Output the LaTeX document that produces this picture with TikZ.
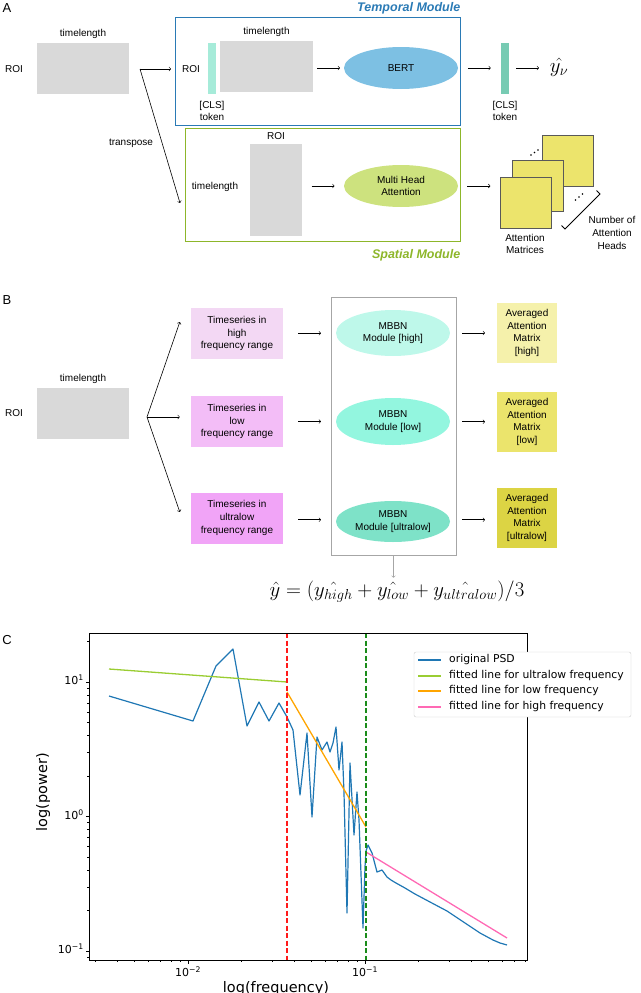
\documentclass[tikz,border=0pt]{standalone}
\usepackage{amsmath}
\usepackage[no-math]{fontspec}
\setmainfont{Liberation Sans}
\newfontfamily\plotfont{DejaVu Sans}
\usetikzlibrary{arrows,shapes.geometric,positioning,calc}

\definecolor{roigrey}{HTML}{D9D9D9}
\definecolor{tempblue}{HTML}{2A7AB5}
\definecolor{spgreen}{HTML}{8DB62A}
\definecolor{clsin}{HTML}{A6EBD9}
\definecolor{clsout}{HTML}{77CBB3}
\definecolor{bertfill}{HTML}{7DC0E3}
\definecolor{mhafill}{HTML}{CDE27E}
\definecolor{attyel}{HTML}{ECE46C}
\definecolor{tshigh}{HTML}{F3D8F4}
\definecolor{tslow}{HTML}{F3BDF7}
\definecolor{tsultra}{HTML}{F1A4F7}
\definecolor{mbhigh}{HTML}{BEF8EA}
\definecolor{mblow}{HTML}{93F6DF}
\definecolor{mbultra}{HTML}{7EE2C8}
\definecolor{avhigh}{HTML}{F5F1AB}
\definecolor{avlow}{HTML}{EBE46C}
\definecolor{avultra}{HTML}{DCD444}
\definecolor{psdblue}{HTML}{1F77B4}
\definecolor{fitultra}{HTML}{9ACD32}
\definecolor{fitlow}{HTML}{FFA500}
\definecolor{fithigh}{HTML}{FF69B4}
\definecolor{cutred}{HTML}{FF1A1A}
\definecolor{cutgreen}{HTML}{1A8C1A}

\begin{document}
\begin{tikzpicture}[
    x=1pt, y=-1pt,
    >=to,
    font=\fontsize{10}{12.8}\selectfont,
    roi/.style={rectangle, fill=roigrey, inner sep=0pt},
    tok/.style={rectangle, inner sep=0pt, minimum width=8pt, minimum height=51pt},
    modl/.style={ellipse, inner sep=0pt, minimum width=114pt, align=center},
    tsbl/.style={rectangle, inner sep=0pt, minimum width=92pt, minimum height=51pt, align=center},
    avbl/.style={rectangle, inner sep=0pt, minimum width=60pt, minimum height=60pt, align=center},
    attm/.style={rectangle, draw=black!65, line width=0.9pt, fill=attyel,
                 minimum size=51pt, inner sep=0pt},
    arr/.style={->, line width=0.6pt},
    lbl/.style={align=center, inner sep=1pt},
    ttl/.style={font=\fontsize{12.5}{15}\selectfont\bfseries\itshape, inner sep=0pt},
    pnl/.style={font=\fontsize{13}{15}\selectfont},
    tlbl/.style={font=\plotfont\fontsize{11}{13}\selectfont, inner sep=1pt},
    axlbl/.style={font=\plotfont\fontsize{14.5}{17}\selectfont},
    tick/.style={line width=0.6pt},
    cutline/.style={line width=1.4pt, dash pattern=on 5pt off 2.5pt},
  ]
  \useasboundingbox (0,0) rectangle (640,993);

  %% ===== A: Temporal / Spatial module =====
  \node[pnl] (labA) at (7,8) {A};

  \node[roi, minimum width=92pt, minimum height=51pt] (inA) at (83,68.5) {};
  \node[above=1pt of inA] (inAtl) {timelength};
  \node (inAroi) at (14,69) {ROI};
  \coordinate (splitA) at (140,69);

  %% Temporal Module
  \node[draw=tempblue, line width=0.9pt, minimum width=284.5pt, minimum height=108pt]
    (tempbox) at (317.75,71) {};
  \node[ttl, text=tempblue, anchor=base east] (tempttl)
    at ([yshift=5.5pt]tempbox.north east) {Temporal Module};

  \node (tmproi) at (191,69) {ROI};
  \node[tok, fill=clsin] (clsA) at (212,68.5) {};
  \node[lbl] (clsAlbl) at (212,111) {[CLS]\\token};
  \node[roi, minimum width=93pt, minimum height=51pt] (tmpA) at (266.5,66.5) {};
  \node[above=1pt of tmpA] (tmpAtl) {timelength};
  \node[modl, fill=bertfill, minimum height=42pt] (bert) at (401,68) {BERT};
  \node[tok, fill=clsout] (clsB) at (504.5,68.5) {};
  \node[lbl] (clsBlbl) at (505,111) {[CLS]\\token};
  \node[font=\fontsize{21}{24}\selectfont] (yhatA) at (559,67) {$\hat{y_\nu}$};

  \draw[arr] (splitA) -- ($(splitA -| tempbox.west)+(-4,0)$);
  \draw[arr] ($(tmpA.east |- bert.west)!.5!(bert.west)$) ++(-11.5,0) -- ++(23,0);
  \draw[arr] ($(bert.east)!.5!(clsB.west |- bert.east)$) ++(-11.5,0) -- ++(23,0);
  \draw[arr] ($(clsB.east |- bert.east)!.5!(yhatA.west |- bert.east)$) ++(-11.5,0) -- ++(23,0);

  %% Spatial Module
  \node[draw=spgreen, line width=0.9pt, minimum width=275pt, minimum height=113pt]
    (spbox) at (322.5,184.5) {};
  \node[ttl, text=spgreen, anchor=base east] (spttl)
    at ([yshift=-17.5pt]spbox.south east) {Spatial Module};
  \node[roi, minimum width=52pt, minimum height=92pt] (spA) at (276,190) {};
  \node[above=1pt of spA] (spAroi) {ROI};
  \node (spAtl) at (215,187) {timelength};
  \node[modl, fill=mhafill, minimum height=42pt] (mha) at (401,186) {Multi Head\\Attention};

  \node[attm] (attback)  at (567.5,160.5) {};
  \node[attm] (attmid)   at (537.5,185.5) {};
  \node[attm] (attfront) at (525.5,202.5) {};
  \foreach \p in {(531,155),(534.5,152.5),(538,150),(575.5,200),(579,197),(582.5,194)}
    \fill \p circle (0.9);
  \draw[line width=0.8pt] (561.5,225.5) -- (565,229) -- (600,194) -- (596.5,190.5);
  \node[lbl] (attlbl) at (525,244) {Attention\\Matrices};
  \node[lbl] (headlbl) at (612,233) {Number of\\Attention\\Heads};

  \draw[arr] ($(spA.east |- mha.west)!.5!(mha.west)$) ++(-11.5,0) -- ++(23,0);
  \draw[arr] ($(mha.east)!.5!(attfront.west |- mha.east)$) ++(-11.5,0) -- ++(23,0);

  %% transpose
  \coordinate (trEnd) at (180,203);
  \draw[arr] (splitA) -- (trEnd);
  \node (trlbl) at (131,143) {transpose};

  %% ===== B: frequency bands =====
  \node[pnl] (labB) at (7,300) {B};

  \node[roi, minimum width=92pt, minimum height=51pt] (inB) at (83,413.5) {};
  \node[above=1pt of inB] (inBtl) {timelength};
  \node (inBroi) at (14,413) {ROI};
  \coordinate (splitB) at (147,417);

  \node[tsbl, fill=tshigh]  (tshi) at (237,333.5) {Timeseries in\\high\\frequency range};
  \node[tsbl, fill=tslow]   (tslo) at (237,421.5) {Timeseries in\\low\\frequency range};
  \node[tsbl, fill=tsultra] (tsul) at (237,518)   {Timeseries in\\ultralow\\frequency range};

  \draw[arr] (splitB) -- ($(tshi.west)+(-11,-11.5)$);
  \draw[arr] (splitB) -- ($(splitB -| tslo.west)+(-11,0)$);
  \draw[arr] (splitB) -- ($(tsul.west)+(-11,-6)$);

  \node[draw=black!35, line width=0.9pt, minimum width=125pt, minimum height=258pt]
    (mbbnbox) at (393.5,426) {};
  \node[modl, fill=mbhigh,  minimum height=46pt] (mbhi) at (393,333)   {MBBN\\Module [high]};
  \node[modl, fill=mblow,   minimum height=47pt] (mblo) at (393,421.5) {MBBN\\Module [low]};
  \node[modl, fill=mbultra, minimum height=41pt] (mbul) at (393,521.5) {MBBN\\Module [ultralow]};

  \node[avbl, fill=avhigh]  (avhi) at (527,333) {Averaged\\Attention\\Matrix\\{}[high]};
  \node[avbl, fill=avlow]   (avlo) at (527,422) {Averaged\\Attention\\Matrix\\{}[low]};
  \node[avbl, fill=avultra] (avul) at (527,518) {Averaged\\Attention\\Matrix\\{}[ultralow]};

  \draw[arr] ($(tshi.east)!.5!(mbhi.west)$) ++(-11.5,0) -- ++(23,0);
  \draw[arr] ($(tslo.east)!.5!(mblo.west)$) ++(-11.5,0) -- ++(23,0);
  \draw[arr] ($(tsul.east)!.5!(mbul.west)$) ++(-11.5,0) -- ++(23,0);
  \draw[arr] ($(mbhi.east)!.5!(avhi.west)$) ++(-11.5,0) -- ++(23,0);
  \draw[arr] ($(mblo.east)!.5!(avlo.west)$) ++(-11.5,0) -- ++(23,0);
  \draw[arr] ($(mbul.east)!.5!(avul.west)$) ++(-11.5,0) -- ++(23,0);

  \node[font=\fontsize{20}{24}\selectfont] (yavg) at (397,592)
    {$\hat{y} = (\hat{y_{high}} + \hat{y_{low}} + \hat{y_{ultralow}})/3$};
  \draw[->, draw=black!35, line width=0.6pt] (mbbnbox.south) -- (mbbnbox.south |- yavg.north);

  %% ===== C: PSD with fitted lines =====
  \node[pnl] (labC) at (7,640) {C};

  \draw[psdblue, line width=1.2pt, line join=round]
    (109,696) -- (193,721) -- (216,666) -- (233,649) -- (247,726) -- (259,702)
    -- (269,721) -- (279,703) -- (287,717) -- (293,730) -- (300,795) -- (307,733)
    -- (312,817) -- (317,737) -- (322,750) -- (327,742) -- (330,752) -- (333,743)
    -- (336,727) -- (339,770) -- (342,742) -- (344,793) -- (347,913) -- (350,763)
    -- (354,835) -- (357,792) -- (359,820) -- (363,928) -- (365,867) -- (366,851)
    -- (368,845) -- (372,853) -- (377,872) -- (382,870) -- (387,877) -- (391,880)
    -- (396,883) -- (405,888) -- (415,894) -- (430,902) -- (447,911) -- (465,923)
    -- (480,933) -- (493,940) -- (500,943) -- (507,945);
  \draw[fitultra, line width=1.3pt] (109,669) -- (287,682);
  \draw[fitlow,   line width=1.3pt] (287,692) -- (366,827);
  \draw[fithigh,  line width=1.3pt] (366,852) -- (507,938);

  \draw[cutline, draw=cutred]   (287,633) -- (287,960);
  \draw[cutline, draw=cutgreen] (366,633) -- (366,960);

  %% axes and ticks
  \draw[line width=0.9pt] (89,633) rectangle (527,960);
  \foreach \xm in {188,365}
    \draw[tick] (\xm,960) -- ++(0,3.5);
  \foreach \dec in {11,188,365}{
    \foreach \k in {2,...,9}{
      \pgfmathsetmacro{\xt}{\dec+177*log10(\k)}
      \ifdim\xt pt>89pt \ifdim\xt pt<527pt
        \draw[tick] (\xt,960) -- ++(0,2);
      \fi\fi
    }
  }
  \foreach \ym in {682,816.5,951}
    \draw[tick] (89,\ym) -- ++(-3.5,0);
  \foreach \dec in {1085.5,951,816.5,682}{
    \foreach \k in {2,...,9}{
      \pgfmathsetmacro{\yt}{\dec-134.5*log10(\k)}
      \ifdim\yt pt>633pt \ifdim\yt pt<960pt
        \draw[tick] (89,\yt) -- ++(-2,0);
      \fi\fi
    }
  }

  \node[tlbl] (xt2) at (188,972) {10\textsuperscript{−2}};
  \node[tlbl] (xt1) at (365,972) {10\textsuperscript{−1}};
  \node[tlbl, anchor=east] (yt1)  at (85,680)   {10\textsuperscript{1}};
  \node[tlbl, anchor=east] (yt0)  at (85,814.5) {10\textsuperscript{0}};
  \node[tlbl, anchor=east] (ytm1) at (85,949)   {10\textsuperscript{−1}};
  \node[axlbl, rotate=90] (ylab) at (43,792) {log(power)};
  \node[axlbl] (xlab) at (276,988) {log(frequency)};

  %% legend
  \node[draw=black!20, fill=white, rounded corners=2pt, minimum width=217pt,
        minimum height=65pt, inner sep=0pt] (legend) at (522.5,684.5) {};
  \foreach \c/\y/\t [count=\i] in {psdblue/660/original PSD,
                                   fitultra/676/fitted line for ultralow frequency,
                                   fitlow/691/fitted line for low frequency,
                                   fithigh/707/fitted line for high frequency}{
    \draw[draw=\c, line width=1.5pt] (418,\y) -- ++(23,0);
    \node[anchor=west, inner sep=0pt, font=\plotfont\fontsize{10.8}{13}\selectfont]
      (leg\i) at (449,\y) {\t};
  }
\end{tikzpicture}
\end{document}
